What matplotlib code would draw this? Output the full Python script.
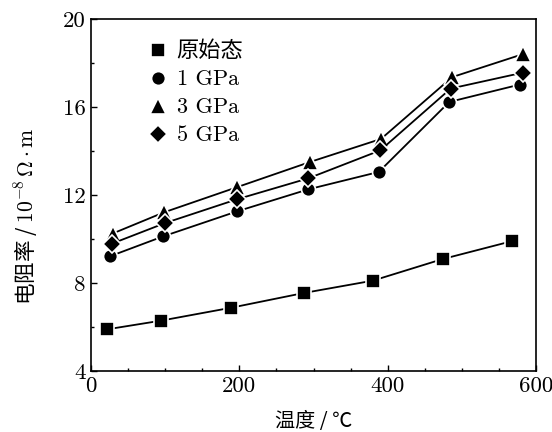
import matplotlib
matplotlib.use('Agg')
import matplotlib.pyplot as plt
from matplotlib.ticker import MultipleLocator
from matplotlib.font_manager import FontProperties

plt.rcParams['font.family'] = ['cmr10', 'Noto Sans CJK SC']
plt.rcParams['mathtext.fontset'] = 'cm'
plt.rcParams['axes.unicode_minus'] = False

# data
temp_orig = [22, 94, 189, 287, 380, 474, 567]
rho_orig = [5.90, 6.29, 6.88, 7.55, 8.11, 9.09, 9.90]

temp_1gpa = [25, 97, 197, 293, 388, 483, 578]
rho_1gpa = [9.21, 10.12, 11.26, 12.26, 13.05, 16.23, 17.02]

temp_3gpa = [29, 98, 197, 295, 391, 487, 582]
rho_3gpa = [10.25, 11.21, 12.36, 13.50, 14.55, 17.36, 18.40]

temp_5gpa = [28, 100, 197, 293, 390, 485, 582]
rho_5gpa = [9.79, 10.73, 11.81, 12.76, 14.03, 16.84, 17.56]

labels = ['原始态', '1 GPa', '3 GPa', '5 GPa']

fig = plt.figure(figsize=(5.52, 4.32), dpi=100)
ax = fig.add_axes([0.165, 0.141, 0.806, 0.815])

style = dict(color='black', linewidth=1.3, markeredgecolor='white',
             markeredgewidth=1.2, markerfacecolor='black')
ax.plot(temp_orig, rho_orig, marker='s', markersize=9.5, label=labels[0], **style)
ax.plot(temp_1gpa, rho_1gpa, marker='o', markersize=10, label=labels[1], **style)
ax.plot(temp_3gpa, rho_3gpa, marker='^', markersize=11.5, label=labels[2], **style)
ax.plot(temp_5gpa, rho_5gpa, marker='D', markersize=9, label=labels[3], **style)

ax.set_xlim(0, 600)
ax.set_ylim(4, 20)
ax.xaxis.set_major_locator(MultipleLocator(200))
ax.xaxis.set_minor_locator(MultipleLocator(50))
ax.yaxis.set_major_locator(MultipleLocator(4))
ax.yaxis.set_minor_locator(MultipleLocator(2))
ax.tick_params(which='both', direction='in', top=False, right=False, labelsize=16.5)
ax.tick_params(which='major', length=4, width=1, pad=4)
ax.tick_params(which='minor', length=2.5, width=1)
for s in ax.spines.values():
    s.set_linewidth(1.2)

ax.set_xlabel('温度 / ℃', family=['Noto Sans CJK SC'], fontsize=14.5, labelpad=11)
ax.set_ylabel('电阻率 / $10^{-8}\\,\\Omega\\cdot\\mathrm{m}$', family='Noto Sans CJK SC',
              fontsize=15.5)
ax.yaxis.set_label_coords(-0.115, 0.44)

leg = ax.legend(loc='upper left', bbox_to_anchor=(0.08, 0.995), frameon=False,
                prop=FontProperties(family=['cmr10', 'Noto Sans CJK SC'], size=16),
                handlelength=1.0, handletextpad=0.35, labelspacing=0.38)
for h in leg.legend_handles:
    h.set_linestyle('none')

fig.savefig('out.png', dpi=100)
